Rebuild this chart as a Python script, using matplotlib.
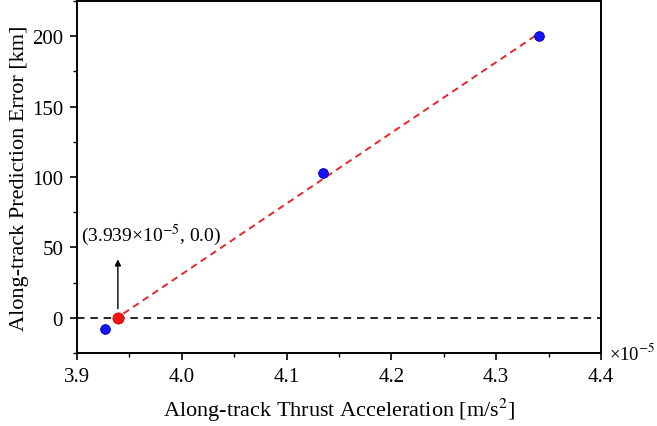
import numpy as np
import matplotlib.pyplot as plt
from matplotlib.ticker import MultipleLocator

plt.rcParams["font.family"] = ["Liberation Serif", "DejaVu Serif"]
plt.rcParams["mathtext.fontset"] = "stix"

# thrust acceleration in units of 1e-5 m/s^2, prediction error in km
thrust = [3.927, 4.135, 4.341]
error = [-7.8, 103.0, 200.0]
zero_x = 3.939
zero_y = 0.0

fig = plt.figure(figsize=(6.57, 4.27), dpi=100)
ax = fig.add_axes([77 / 657, 1 - 354 / 427, 524 / 657, 352 / 427])

# linear fit through the samples
coef = np.polyfit(thrust, error, 1)
xf = np.array([zero_x - 0.004, thrust[-1]])
ax.plot(xf, np.polyval(coef, xf), "--", color="#e8262a", lw=1.4, dashes=(3.5, 2.5), zorder=2)

ax.axhline(0, color="black", ls="--", lw=1.2, dashes=(4.5, 3.5), zorder=1)

ax.plot(thrust, error, "o", ms=7, color="#1414ff", mec="#0000a0", mew=0.6, zorder=3)
ax.plot([zero_x], [zero_y], "o", ms=8, color="#ff1010", mec="#d00000", mew=0.6, zorder=4)

ax.annotate("", xy=(zero_x, 43.5), xytext=(zero_x, 4.5),
            arrowprops=dict(arrowstyle="-|>", color="black", lw=1.0, mutation_scale=9))
ax.text(3.9035, 50, "(3.939×10$^{-5}$, 0.0)", fontsize=14, ha="left", va="bottom")

ax.set_xlim(3.9, 4.4)
ax.set_ylim(-25, 225)
ax.xaxis.set_major_locator(MultipleLocator(0.1))
ax.xaxis.set_minor_locator(MultipleLocator(0.05))
ax.yaxis.set_major_locator(MultipleLocator(50))
ax.yaxis.set_minor_locator(MultipleLocator(25))
ax.xaxis.set_major_formatter(plt.FormatStrFormatter("%.1f"))

ax.tick_params(which="both", direction="out", top=False, right=False, labelsize=15)
ax.tick_params(which="major", length=5, width=1.2, pad=5)
ax.tick_params(which="minor", length=3, width=1.0)
for s in ax.spines.values():
    s.set_linewidth(1.4)

ax.text(1.015, 0.0, "×10$^{-5}$", transform=ax.transAxes, fontsize=13.5, ha="left", va="center")

ax.set_xlabel("Along-track Thrust Acceleration [m/s$^2$]", fontsize=16, labelpad=7)
ax.set_ylabel("Along-track Prediction Error [km]", fontsize=16, labelpad=2)

fig.savefig("out.png", dpi=100)
